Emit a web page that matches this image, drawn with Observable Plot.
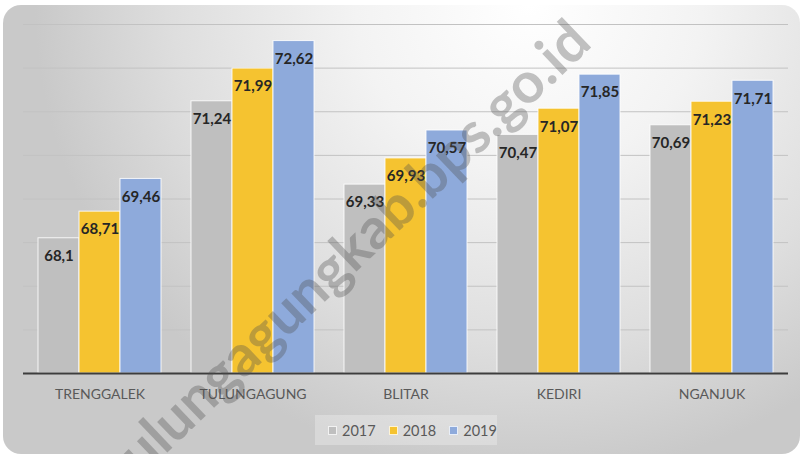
<!DOCTYPE html>
<html>
<head>
<meta charset="utf-8">
<script src="https://cdn.jsdelivr.net/npm/d3@7"></script>
<script src="https://cdn.jsdelivr.net/npm/@observablehq/plot@0.6"></script>
<style>
  html, body { margin: 0; padding: 0; width: 801px; height: 454px; overflow: hidden; background: #fff; font-family: Lato, "Open Sans", sans-serif; }
  #card { position: absolute; left: 3px; top: 5px; width: 797px; height: 449px; border-radius: 18px;
    background: radial-gradient(ellipse 62% 105% at 66% 0%, #ffffff 0%, #f3f3f3 35%, #dedede 72%, #c9c9c9 100%); }
  #chart { position: absolute; left: 0; top: 0; }
  #legend { position: absolute; left: 315px; top: 415px; width: 182px; height: 30px; background: rgba(255,255,255,0.28);
    display: flex; align-items: center; padding-left: 13px; box-sizing: border-box; font-size: 14.5px; color: #595959; }
  #legend .item { display: flex; align-items: center; margin-right: 13px; }
  #legend .sw { width: 7px; height: 7px; border: 1px solid rgba(255,255,255,0.8); margin-right: 5px; }
  #wm { position: absolute; left: 345px; top: 253px; transform: translate(-50%, -50%) rotate(-43.7deg);
    font: bold 57px Lato, sans-serif; line-height: 1; color: rgba(80,80,80,0.34); white-space: nowrap; pointer-events: none; }
</style>
</head>
<body>
<div id="card"></div>
<div id="chart"></div>
<div id="legend"></div>
<div id="wm">tulungagungkab.bps.go.id</div>
<script>
const regions = ["TRENGGALEK", "TULUNGAGUNG", "BLITAR", "KEDIRI", "NGANJUK"];
const years = ["2017", "2018", "2019"];
const v2017 = [68.1, 71.24, 69.33, 70.47, 70.69];
const v2018 = [68.71, 71.99, 69.93, 71.07, 71.23];
const v2019 = [69.46, 72.62, 70.57, 71.85, 71.71];
const yTicks = [65, 66, 67, 68, 69, 70, 71, 72, 73];
const colors = ["#bfbfbf", "#f5c330", "#8eaadb"];

const series = [v2017, v2018, v2019];
const data = regions.flatMap((r, i) => series.map((s, j) => ({region: r, year: years[j], value: s[i]})));
const yMin = yTicks[0], yMax = yTicks[yTicks.length - 1];
const fmt = v => String(v).replace(".", ",");

const chart = Plot.plot({
  width: 801,
  height: 410,
  marginTop: 24,
  marginBottom: 37,
  marginLeft: 23,
  marginRight: 13,
  style: {background: "transparent", fontFamily: "Lato, sans-serif"},
  fx: {domain: regions, padding: 0, label: null},
  x: {domain: years, paddingInner: 0, paddingOuter: 0.337, axis: null},
  y: {domain: [yMin, yMax], axis: null},
  color: {domain: years, range: colors},
  marks: [
    Plot.ruleY(yTicks.slice(1), {stroke: "#c2c2c2", strokeWidth: 1}),
    Plot.barY(data, {fx: "region", x: "year", y1: yMin, y2: "value", fill: "year", stroke: "#ffffff", strokeOpacity: 0.85, strokeWidth: 1}),
    Plot.text(data, {fx: "region", x: "year", y: "value", text: d => fmt(d.value), dy: 18,
      fontSize: 15, fontWeight: "bold", fill: "#262626"}),
    Plot.ruleY([yMin], {stroke: "#3d3d3d", strokeWidth: 2}),
    Plot.axisFx({anchor: "bottom", tickSize: 0, tickPadding: 16, fontSize: 14, fill: "#595959", label: null})
  ]
});
document.getElementById("chart").appendChild(chart);

const legend = document.getElementById("legend");
years.forEach((y, i) => {
  const item = document.createElement("div");
  item.className = "item";
  const sw = document.createElement("div");
  sw.className = "sw";
  sw.style.background = colors[i];
  const t = document.createElement("span");
  t.textContent = y;
  item.appendChild(sw);
  item.appendChild(t);
  legend.appendChild(item);
});
</script>
</body>
</html>
